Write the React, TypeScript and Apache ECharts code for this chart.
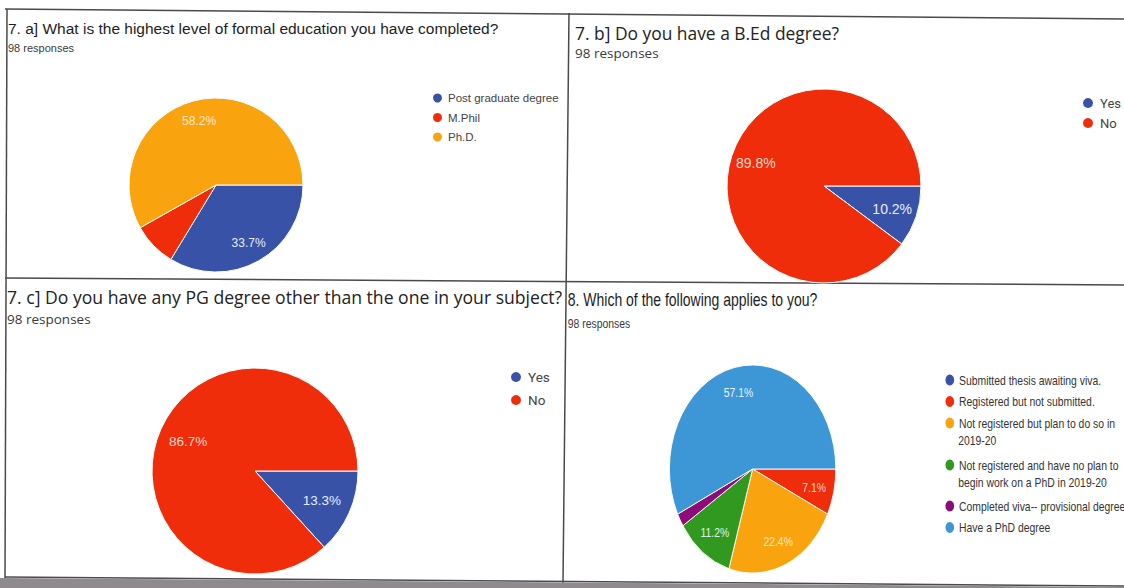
import React, { useEffect, useRef } from "react";
import * as echarts from "echarts";

// ---------- data ----------
const responsesText = "98 responses";
const titles = [
  "7. a] What is the highest level of formal education you have completed?",
  "7. b] Do you have a B.Ed degree?",
  "7. c] Do you have any PG degree other than the one in your subject?",
  "8. Which of the following applies to you?",
];

const eduNames = ["Post graduate degree", "M.Phil", "Ph.D."];
const eduCounts = [33, 8, 57];

const bedNames = ["Yes", "No"];
const bedCounts = [10, 88];

const pgNames = ["Yes", "No"];
const pgCounts = [13, 85];

const phdLegendLines = [
  ["Submitted thesis awaiting viva."],
  ["Registered but not submitted."],
  ["Not registered but plan to do so in", "2019-20"],
  ["Not registered and have no plan to", "begin work on a PhD in 2019-20"],
  ["Completed viva-- provisional degree"],
  ["Have a PhD degree"],
];
const phdNames = phdLegendLines.map((l) => l.join(" "));
const phdCounts = [0, 7, 22, 11, 2, 56];

// ---------- styles ----------
const ARIAL = "'Liberation Sans', Arial, sans-serif";
const GSANS = "'Open Sans', 'Noto Sans', sans-serif";
const BLUE = "#3752a6";
const RED = "#ef2d0b";
const ORANGE = "#f9a30f";
const GREEN = "#31991f";
const PURPLE = "#8e0b7a";
const LBLUE = "#3d97d6";

function piePair(
  names: string[],
  counts: number[],
  colors: string[],
  center: number[],
  r: number,
  showLabel: boolean[],
  labelColors: string[],
  fontSize: number,
  innerFrac: number
) {
  const total = counts.reduce((a, b) => a + b, 0);
  return [
    {
      type: "pie",
      center,
      radius: [0, r],
      startAngle: 0,
      clockwise: true,
      silent: true,
      data: names.map((n, i) => ({ name: n, value: counts[i], itemStyle: { color: colors[i] } })),
      itemStyle: { borderColor: "#ffffff", borderWidth: 1 },
      label: { show: false },
      labelLine: { show: false },
    },
    {
      type: "pie",
      center,
      radius: [r * innerFrac, r],
      startAngle: 0,
      clockwise: true,
      silent: true,
      data: names.map((n, i) => ({
        name: n,
        value: counts[i],
        itemStyle: { color: "rgba(0,0,0,0)", borderWidth: 0 },
        label: { show: showLabel[i], color: labelColors[i] },
      })),
      label: {
        position: "inside",
        fontFamily: ARIAL,
        fontSize,
        formatter: (p: any) => ((p.value / total) * 100).toFixed(1) + "%",
      },
      labelLine: { show: false },
    },
  ];
}

function line(points: number[][]) {
  return {
    type: "polyline",
    shape: { points },
    style: { stroke: "#4a4a4a", lineWidth: 1.5, fill: null },
    silent: true,
  };
}

const mainOption: any = {
  animation: false,
  title: [
    {
      text: titles[0],
      subtext: responsesText,
      left: 8,
      top: 19,
      padding: 0,
      itemGap: 4.5,
      textStyle: { fontFamily: ARIAL, fontSize: 15.5, fontWeight: "normal", color: "#1d1d1d", lineHeight: 18 },
      subtextStyle: { fontFamily: ARIAL, fontSize: 11, color: "#3a3a3a", lineHeight: 13 },
    },
    {
      text: titles[1],
      subtext: responsesText,
      left: 575,
      top: 23,
      padding: 0,
      itemGap: 2,
      textStyle: { fontFamily: GSANS, fontSize: 17.4, fontWeight: "normal", color: "#222", lineHeight: 20 },
      subtextStyle: { fontFamily: GSANS, fontSize: 13.5, color: "#3a3a3a", lineHeight: 16 },
    },
    {
      text: titles[2],
      subtext: responsesText,
      left: 7,
      top: 287,
      padding: 0,
      itemGap: 4,
      textStyle: { fontFamily: GSANS, fontSize: 17.6, fontWeight: "normal", color: "#222", lineHeight: 20 },
      subtextStyle: { fontFamily: GSANS, fontSize: 13.5, color: "#3a3a3a", lineHeight: 16 },
    },
  ],
  legend: [
    {
      data: eduNames,
      orient: "vertical",
      left: 431,
      top: 91.5,
      padding: 0,
      itemWidth: 11,
      itemHeight: 11,
      itemGap: 6.5,
      icon: "circle",
      selectedMode: false,
      textStyle: { fontFamily: ARIAL, fontSize: 11.5, color: "#444", lineHeight: 11 },
    },
    {
      data: bedNames,
      orient: "vertical",
      left: 1081,
      top: 96,
      padding: 0,
      itemWidth: 14,
      itemHeight: 12,
      itemGap: 6,
      icon: "circle",
      selectedMode: false,
      textStyle: { fontFamily: "Roboto, sans-serif", fontSize: 13, color: "#444", lineHeight: 12 },
    },
    {
      data: pgNames,
      orient: "vertical",
      left: 509,
      top: 370,
      padding: 0,
      itemWidth: 14,
      itemHeight: 12,
      itemGap: 9,
      icon: "circle",
      selectedMode: false,
      textStyle: { fontFamily: "Roboto, sans-serif", fontSize: 13.5, color: "#444", lineHeight: 12 },
    },
  ],
  graphic: [
    line([[5, 9], [1124, 19]]),
    line([[7, 9], [5, 578]]),
    line([[5, 278], [1124, 285]]),
    line([[569, 13], [563, 583]]),
    line([[5, 577], [1124, 586]]),
    {
      type: "polygon",
      shape: { points: [[0, 578], [1124, 587], [1124, 588], [0, 588]] },
      style: { fill: "#8e8a8e" },
      silent: true,
    },
  ],
  series: [
    ...piePair(eduNames, eduCounts, [BLUE, RED, ORANGE], [216, 185], 87, [true, false, true], ["#e8ecff", "#fff", "#fde9c8"], 12, 0.46),
    ...piePair(bedNames, bedCounts, [BLUE, RED], [824, 186], 97, [true, true], ["#e8ecff", "#ffd9c9"], 14, 0.42),
    ...piePair(pgNames, pgCounts, [BLUE, RED], [255, 471], 103, [true, true], ["#e8ecff", "#ffd9c9"], 13.5, 0.36),
  ],
};

const firstLine = (name: string) => {
  const i = phdNames.indexOf(name);
  return i >= 0 ? phdLegendLines[i][0] : name;
};

const legend4Base = {
  orient: "vertical",
  left: 471,
  padding: 0,
  itemWidth: 13,
  itemHeight: 13,
  itemGap: 6.5,
  icon: "circle",
  selectedMode: false,
  formatter: firstLine,
  textStyle: { fontFamily: ARIAL, fontSize: 13, color: "#333", lineHeight: 13 },
};

const p4Option: any = {
  animation: false,
  title: {
    text: titles[3],
    subtext: responsesText,
    left: 1,
    top: 7,
    padding: 0,
    itemGap: 5,
    textStyle: { fontFamily: ARIAL, fontSize: 17.5, fontWeight: "normal", color: "#1d1d1d", lineHeight: 20 },
    subtextStyle: { fontFamily: ARIAL, fontSize: 13, color: "#3a3a3a", lineHeight: 16 },
  },
  legend: [
    { ...legend4Base, data: phdNames.slice(0, 3), top: 89.5 },
    { ...legend4Base, data: phdNames.slice(3, 4), top: 174.5 },
    { ...legend4Base, data: phdNames.slice(4, 6), top: 215.5 },
  ],
  graphic: [
    {
      type: "text",
      x: 489,
      y: 157,
      silent: true,
      style: { text: phdLegendLines[2][1], font: "13px " + ARIAL, fill: "#333", verticalAlign: "middle" },
    },
    {
      type: "text",
      x: 489,
      y: 199,
      silent: true,
      style: { text: phdLegendLines[3][1], font: "13px " + ARIAL, fill: "#333", verticalAlign: "middle" },
    },
  ],
  series: [
    ...piePair(
      phdNames,
      phdCounts,
      [BLUE, RED, ORANGE, GREEN, PURPLE, LBLUE],
      [232, 186],
      104,
      [false, true, true, true, false, true],
      ["#fff", "#ffd9c9", "#fde9c8", "#e6f5e0", "#fff", "#e8f3ff"],
      13,
      0.46
    ),
  ],
};

export default function App() {
  const mainRef = useRef<HTMLDivElement>(null);
  const p4Ref = useRef<HTMLDivElement>(null);
  useEffect(() => {
    const c1 = echarts.init(mainRef.current!, undefined, { renderer: "svg" });
    c1.setOption(mainOption);
    const c2 = echarts.init(p4Ref.current!, undefined, { renderer: "svg" });
    c2.setOption(p4Option);
    return () => {
      c1.dispose();
      c2.dispose();
    };
  }, []);
  return (
    <div
      style={{
        position: "fixed",
        left: 0,
        top: 0,
        width: 1124,
        height: 588,
        overflow: "hidden",
        background: "#ffffff",
      }}
    >
      <div ref={mainRef} style={{ position: "absolute", left: 0, top: 0, width: 1124, height: 588 }} />
      <div
        ref={p4Ref}
        style={{
          position: "absolute",
          left: 567,
          top: 283,
          width: 700,
          height: 300,
          transform: "scaleX(0.8)",
          transformOrigin: "0 0",
        }}
      />
    </div>
  );
}
